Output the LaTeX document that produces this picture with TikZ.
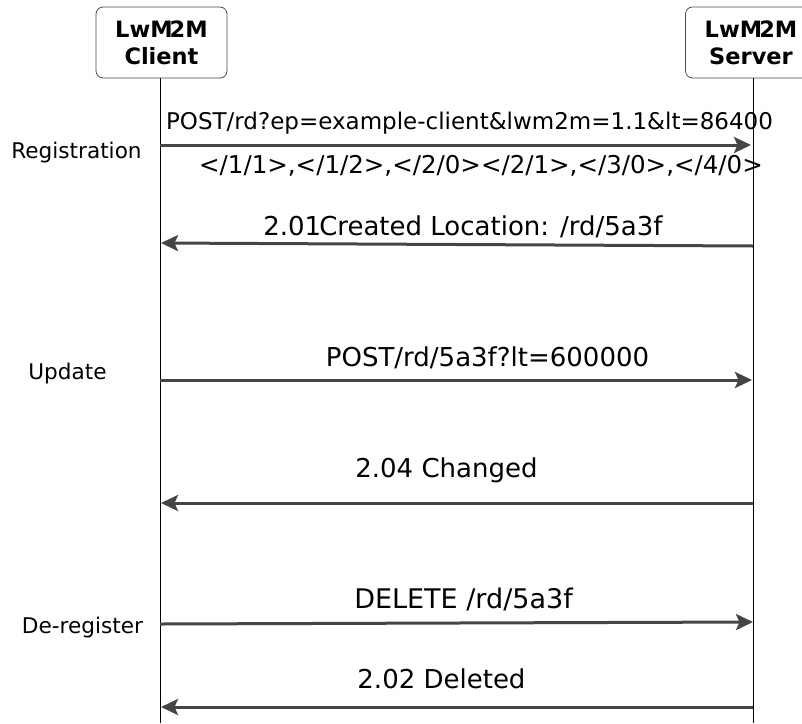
\documentclass[tikz,border=0pt]{standalone}
\usepackage{fontspec}
\setmainfont{DejaVu Sans}
\usetikzlibrary{arrows.meta}
\definecolor{arrowgray}{HTML}{454545}
\tikzset{
  actor/.style={draw=black!70, line width=0.8pt, rounded corners=7pt, minimum width=131pt, minimum height=71pt, align=center, font=\fontsize{22.5}{27}\selectfont\bfseries, inner sep=0pt},
  lifeline/.style={draw=black, line width=1pt},
  msg/.style={draw=arrowgray, line width=3pt, -{Stealth[length=17pt, width=16pt, inset=3.5pt]}},
  msglabel/.style={font=\fontsize{26}{30}\selectfont, inner sep=0pt},
  postlabel/.style={font=\fontsize{23}{27}\selectfont, inner sep=0pt},
  linklabel/.style={font=\fontsize{24.5}{29}\selectfont, inner sep=0pt},
  phase/.style={font=\fontsize{21.6}{25}\selectfont, inner sep=0pt}
}
\begin{document}
\begin{tikzpicture}[x=1pt, y=-1pt]
\clip (0,0) rectangle (802,723);
\fill[white] (0,0) rectangle (802,723);
% actors
\node[actor] (client) at (161.5,42.5) {LwM\kern-3pt 2M\\[0pt]Client};
\node[actor] (server) at (751,42.5) {LwM\kern-3pt 2M\\[0pt]Server};
% lifelines
\coordinate (cbot) at (160,723);
\coordinate (sbot) at (753,723);
\draw[lifeline] (client.south -| cbot) -- (cbot);
\draw[lifeline] (server.south -| sbot) -- (sbot);
% message endpoints
\coordinate (c1) at (160,145); \coordinate (s1) at (751,145);
\coordinate (s2) at (753,246); \coordinate (c2) at (161,243);
\coordinate (c3) at (160,380); \coordinate (s3) at (752,380);
\coordinate (s4) at (753,503); \coordinate (c4) at (161,503);
\coordinate (c5) at (160,624); \coordinate (s5) at (753,622);
\coordinate (s6) at (753,707); \coordinate (c6) at (161,707);
% messages
\draw[msg] (c1) -- (s1);
\draw[msg] (s2) -- (c2);
\draw[msg] (c3) -- (s3);
\draw[msg] (s4) -- (c4);
\draw[msg] (c5) -- (s5);
\draw[msg] (s6) -- (c6);
% labels
\node[postlabel] (l1) at (469.5,123) {POST/rd?ep=example-client\&lwm2m=1.1\&lt=86400};
\node[linklabel] (l1b) at (481,166) {</1/1>,</1/2>,</2/0></2/1>,</3/0>,</4/0>};
\node[msglabel] (l2) at (463,227) {2.01\kern-2pt Created Location: /rd/5a3f};
\node[msglabel] (l3) at (487.5,358) {POST/rd/5a3f?lt=600000};
\node[msglabel] (l4) at (446.5,470) {2.04 Changed};
\node[msglabel, font=\fontsize{27}{31}\selectfont] (l5) at (463.5,599) {DELETE /rd/5a3f};
\node[msglabel] (l6) at (441.5,679) {2.02 Deleted};
% phases
\node[phase] (p1) at (76.5,153) {Registration};
\node[phase] (p2) at (67.5,374) {Update};
\node[phase] (p3) at (82.5,628) {De-register};
\end{tikzpicture}
\end{document}
